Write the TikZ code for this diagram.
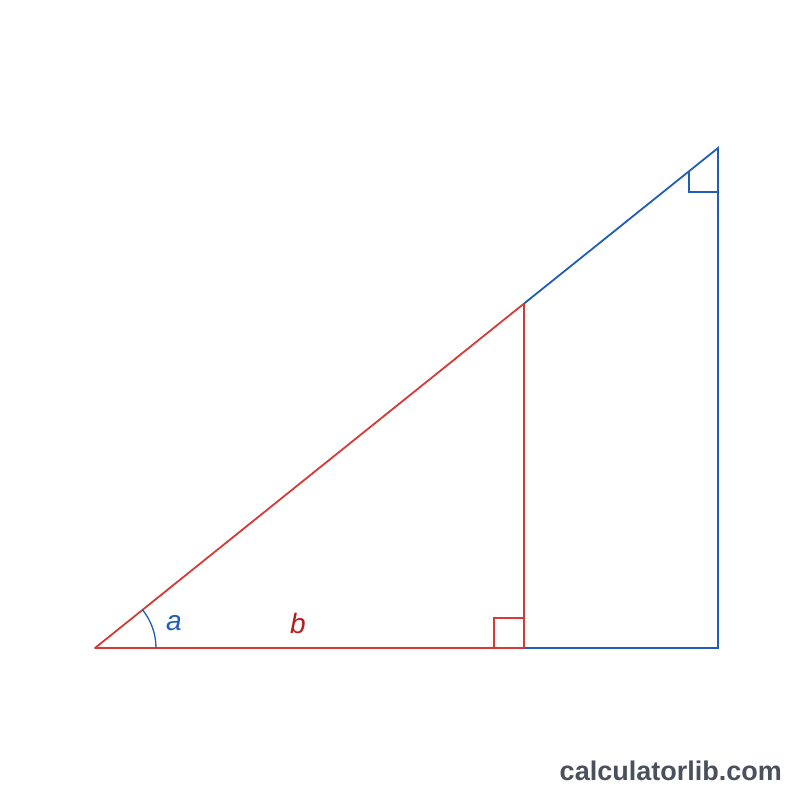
\documentclass[tikz,border=0pt]{standalone}
\usepackage{fontspec}
\setmainfont{Liberation Sans}
\usetikzlibrary{calc}
\definecolor{tred}{HTML}{D63A36}
\definecolor{dred}{HTML}{B81C1C}
\definecolor{tblue}{HTML}{1F5DB8}
\definecolor{wm}{HTML}{4A505C}
\begin{document}
\begin{tikzpicture}[x=1pt,y=-1pt,
  redline/.style={draw=tred,line width=1.8pt},
  blueline/.style={draw=tblue,line width=1.8pt},
  redthin/.style={draw=tred,line width=1.3pt},
  bluethin/.style={draw=tblue,line width=1.3pt},
  lab/.style={font=\fontsize{28}{28}\selectfont\itshape,inner sep=0pt}]
\useasboundingbox (0,0) rectangle (800,800);
\fill[white] (0,0) rectangle (800,800);
\coordinate (A) at (95,648);
\coordinate (C) at (524,648);
\coordinate (B) at (524,303.6);
\coordinate (T) at (718,148);
\coordinate (R) at (718,648);
% blue triangle
\draw[blueline] (B) -- (T) -- (R) -- (C);
% red triangle
\draw[redline,line join=round] (A) -- (C) -- (B) -- cycle;
% right-angle markers
\draw[redthin] (494,648) -- (494,618) -- (524,618);
\coordinate (M1) at (689,171.3);
\coordinate (M2) at (689,192);
\coordinate (M3) at (718,192);
\draw[bluethin] (M1) -- (M2) -- (M3);
% angle arc
\draw[bluethin] ($(A)+(61,0)$) arc[start angle=0,end angle=-38.75,radius=61];
\node[lab,text=tblue] (la) at (174,623.5) {a};
\node[lab,text=dred] (lb) at (298,623) {b};
\node[font=\fontsize{27}{27}\selectfont\bfseries,text=wm,inner sep=0pt,anchor=base east] (wmk) at (782,780) {calculatorlib.com};
\end{tikzpicture}
\end{document}
